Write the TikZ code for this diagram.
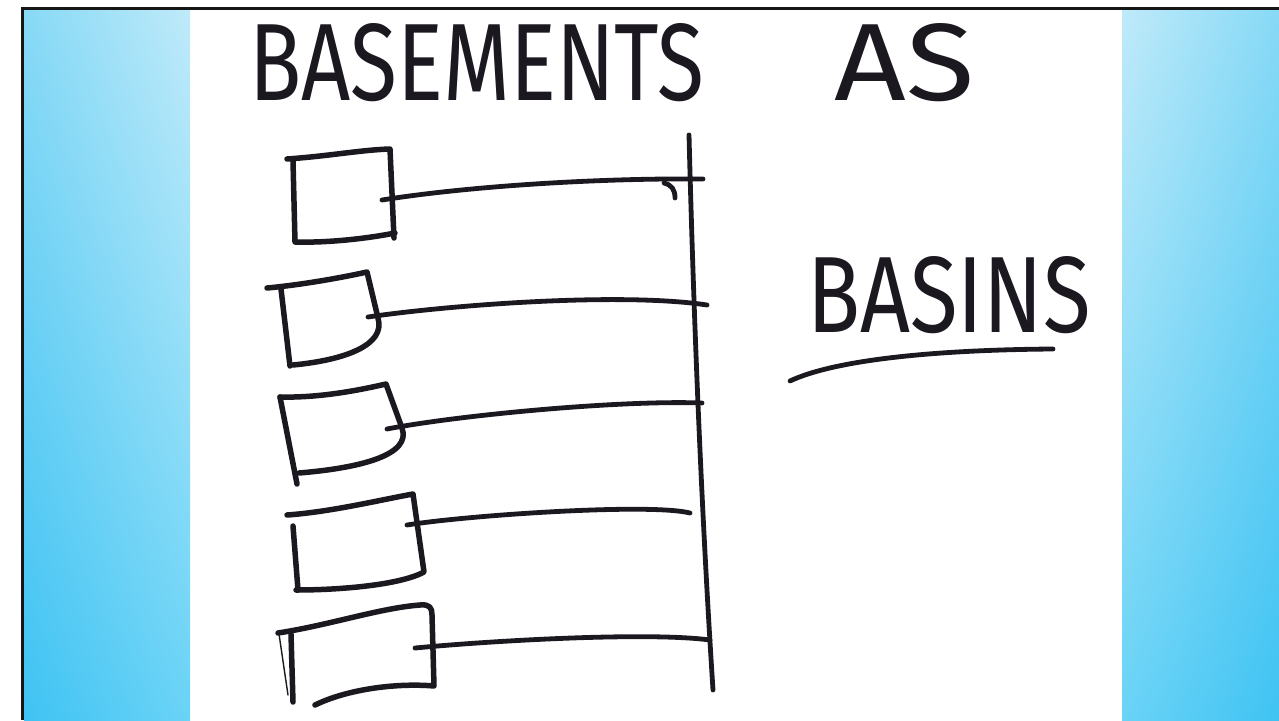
\documentclass[tikz,border=0pt]{standalone}
\usepackage{fontspec}
\setsansfont{Fira Sans}
\usetikzlibrary{shadings}

\definecolor{ink}{HTML}{1C1820}
\definecolor{frame}{HTML}{161616}
\definecolor{skyA}{HTML}{87D9F6}
\definecolor{skyB}{HTML}{BFEAF9}
\definecolor{skyC}{HTML}{3FC3F3}
\definecolor{skyD}{HTML}{6AD3F6}

\tikzset{
  pen/.style={ink, line width=5.5pt, line cap=round, line join=round},
  wire/.style={ink, line width=4.8pt, line cap=round},
  thinpen/.style={ink, line width=1.4pt, line cap=round},
  scrawl/.style={inner sep=0pt, font=\sffamily, text=ink},
}

\begin{document}
\begin{tikzpicture}[x=1pt, y=-1pt]
        % \draw[help lines, gray!50, very thin] (0,0) grid[step=100] (1279,720);
        \useasboundingbox (0,0) rectangle (1279,720);
        \fill[white] (0,0) rectangle (1279,720);

        % side panels and frame
        \shade[upper left=skyA, upper right=skyB, lower left=skyC, lower right=skyD] (24,10) rectangle (190,720);
        \shade[upper left=skyB, upper right=skyA, lower left=skyD, lower right=skyC] (1122,10) rectangle (1279,720);
        \draw[frame, line width=3pt] (22,720) -- (22,8) -- (1279,8);

        % titles
        \node[scrawl] (title) at (612,63) {\resizebox{455pt}{77pt}{BASEMENTS}\hspace{130pt}\resizebox{140pt}{77pt}{AS}};
        \node[scrawl] (basins) at (949,295) {\resizebox{283pt}{76pt}{BASINS}};
        \coordinate (u1) at (790,381);
        \coordinate (u2) at (1053,349);
        \draw[wire] (u1) .. controls (830,362) and (920,350) .. (u2);

        % the main line
        \coordinate (top) at (689,135);
        \coordinate (bot) at (713,690);
        \draw[wire] (top) .. controls (694,330) and (702,520) .. (bot);

        % basements
        \draw[pen] (287,159) .. controls (330,156) and (360,150) .. (390,149) -- (394,238);
        \draw[pen] (293,161) -- (295,242) .. controls (330,243) and (370,238) .. (395,233);

        \draw[pen] (267,288) .. controls (300,285) and (340,278) .. (367,272) -- (378,318) .. controls (386,345) and (345,360) .. (293,365);
        \draw[pen] (281,289) -- (290,366);

        \draw[pen] (280,397) .. controls (320,398) and (360,390) .. (386,384) -- (402,428) .. controls (412,455) and (360,468) .. (299,473);
        \draw[pen] (280,397) -- (297,484);

        \draw[pen] (287,515) .. controls (330,512) and (380,500) .. (413,494) -- (424,572) .. controls (400,585) and (340,590) .. (296,590);
        \draw[pen] (293,526) -- (298,590);

        \draw[pen] (278,633) .. controls (330,625) and (380,608) .. (420,605) .. controls (430,604) and (432,608) .. (432,615) -- (434,686) .. controls (400,683) and (350,688) .. (315,705);
        \draw[pen] (291,634) -- (293,702);
        \draw[thinpen] (279,634) -- (288,695);

        % links to the main line
        \coordinate (b1) at (382,200);
        \coordinate (r1) at (703,179);
        \draw[wire] (b1) .. controls (470,186) and (600,178) .. (r1);
        \draw[wire] (664,183) .. controls (672,185) and (675,190) .. (675,198);

        \coordinate (b2) at (368,317);
        \coordinate (r2) at (707,305);
        \draw[wire] (b2) .. controls (450,305) and (620,292) .. (r2);

        \coordinate (b3) at (387,429);
        \coordinate (r3) at (702,403);
        \draw[wire] (b3) .. controls (460,415) and (620,400) .. (r3);

        \coordinate (b4) at (407,525);
        \coordinate (r4) at (690,513);
        \draw[wire] (b4) .. controls (470,515) and (650,503) .. (r4);

        \coordinate (b5) at (415,648);
        \coordinate (r5) at (710,640);
        \draw[wire] (b5) .. controls (500,640) and (650,632) .. (r5);
\end{tikzpicture}
\end{document}
